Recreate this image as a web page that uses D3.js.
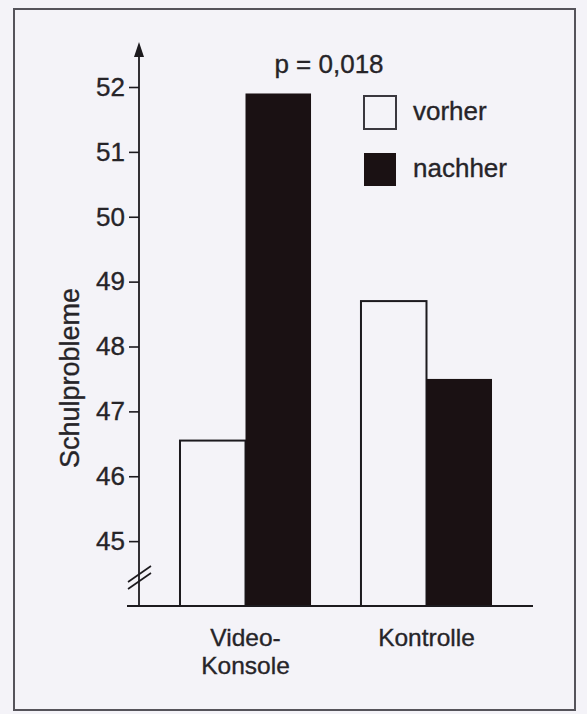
<!DOCTYPE html>
<html>
<head>
<meta charset="utf-8">
<script src="https://cdn.jsdelivr.net/npm/d3@7"></script>
<style>
    body { margin: 0; background: #f4f3f8; }
    svg { display: block; }
    text { font-family: "Liberation Sans", Arial, sans-serif; fill: #262428; stroke: #262428; stroke-width: 0.35px; }
</style>
</head>
<body>
<div id="chart"></div>
<script>
const groups = ['Video-Konsole', 'Kontrolle'];
const groupLabels = [['Video-', 'Konsole'], ['Kontrolle']];
const series = ['vorher', 'nachher'];
const vorher = [46.55, 48.7];
const nachher = [51.9, 47.5];
const yTicks = [45, 46, 47, 48, 49, 50, 51, 52];
const yTitle = 'Schulprobleme';
const pLabel = 'p = 0,018';

const width = 587;
const height = 714;
const ink = '#1c1a1e';
const barBlack = '#1a1113';

let svg = d3.select('#chart').append('svg')
    .attr('width', width)
    .attr('height', height);

svg.append('rect')
    .attr('width', width)
    .attr('height', height)
    .attr('fill', '#f4f3f8');

// outer frame of the figure
svg.append('rect')
    .attr('x', 14)
    .attr('y', 9)
    .attr('width', 561)
    .attr('height', 701)
    .attr('fill', 'none')
    .attr('stroke', '#55535a')
    .attr('stroke-width', 2);

let axisX = 139;
let y = d3.scaleLinear().domain([44, 52]).range([606, 87]);
let x0 = d3.scaleBand().domain(groups).range([axisX, 533]).paddingInner(0.276).paddingOuter(0.2265);
let x1 = d3.scaleBand().domain(series).range([0, x0.bandwidth()]);

let data = groups.map((g, i) => ({
    group: g,
    values: [
        {key: 'vorher', value: vorher[i]},
        {key: 'nachher', value: nachher[i]}
    ]
}));

// bars
let groupSel = svg.selectAll('.group')
    .data(data)
    .enter().append('g')
    .attr('class', 'group')
    .attr('transform', d => 'translate(' + x0(d.group) + ',0)');

groupSel.selectAll('rect')
    .data(d => d.values)
    .enter().append('rect')
    .attr('x', d => x1(d.key))
    .attr('y', d => y(d.value))
    .attr('width', x1.bandwidth())
    .attr('height', d => y(44) - y(d.value))
    .attr('fill', d => d.key === 'vorher' ? 'none' : barBlack)
    .attr('stroke', d => d.key === 'vorher' ? ink : 'none')
    .attr('stroke-width', 2);

// y axis with ticks on the left
let yAxis = svg.append('g')
    .attr('transform', 'translate(' + axisX + ',0)')
    .call(d3.axisLeft(y).tickValues(yTicks).tickSize(10).tickPadding(4));
yAxis.select('.domain').remove();
yAxis.selectAll('.tick line').attr('stroke', ink).attr('stroke-width', 1.6);
yAxis.selectAll('.tick text')
    .attr('fill', '#262428')
    .style('font-size', '26px')
    .style('font-family', '"Liberation Sans", Arial, sans-serif');

// axis line with arrow head
svg.append('line')
    .attr('x1', axisX).attr('x2', axisX)
    .attr('y1', 52).attr('y2', y(44))
    .attr('stroke', ink)
    .attr('stroke-width', 1.8);
svg.append('path')
    .attr('d', 'M' + axisX + ',42 L' + (axisX - 5) + ',57 L' + (axisX + 5) + ',57 Z')
    .attr('fill', ink);

// axis break marks
[0, 7].forEach(off => {
    svg.append('line')
        .attr('x1', axisX - 11).attr('y1', 582 + off)
        .attr('x2', axisX + 12).attr('y2', 566 + off)
        .attr('stroke', ink)
        .attr('stroke-width', 1.6);
});

// baseline
svg.append('line')
    .attr('x1', 127).attr('x2', 533)
    .attr('y1', y(44)).attr('y2', y(44))
    .attr('stroke', ink)
    .attr('stroke-width', 2.2);

// category labels, one text per line
groups.forEach((g, i) => {
    groupLabels[i].forEach((line, j) => {
        svg.append('text')
            .attr('x', x0(g) + x0.bandwidth() / 2)
            .attr('y', 646 + j * 28)
            .attr('text-anchor', 'middle')
            .style('font-size', '24.5px')
            .text(line);
    });
});

// y title
svg.append('text')
    .attr('transform', 'translate(79,' + 378 + ')rotate(-90)')
    .attr('text-anchor', 'middle')
    .style('font-size', '27px')
    .text(yTitle);

// p value
svg.append('text')
    .attr('x', 329)
    .attr('y', 73)
    .attr('text-anchor', 'middle')
    .style('font-size', '26px')
    .text(pLabel);

// legend
let legend = svg.selectAll('.legend')
    .data(series)
    .enter().append('g')
    .attr('class', 'legend')
    .attr('transform', (d, i) => 'translate(364,' + (96 + i * 57) + ')');

legend.append('rect')
    .attr('width', 32)
    .attr('height', 33)
    .attr('fill', d => d === 'vorher' ? 'none' : barBlack)
    .attr('stroke', d => d === 'vorher' ? '#3a383e' : 'none')
    .attr('stroke-width', 2);

legend.append('text')
    .attr('x', 49)
    .attr('y', 24)
    .style('font-size', '26px')
    .text(d => d);
</script>
</body>
</html>
